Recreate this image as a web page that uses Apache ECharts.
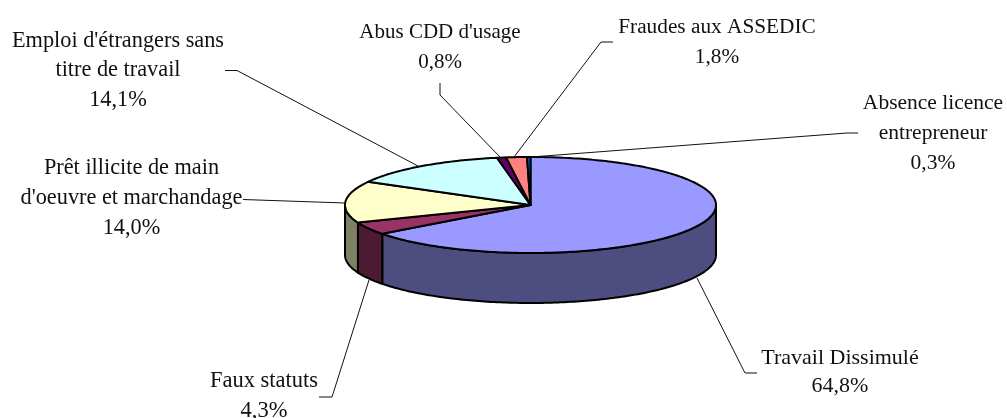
<!DOCTYPE html>
<html>
<head>
<meta charset="utf-8">
<style>html,body{margin:0;padding:0;background:#fff}#c{width:1007px;height:418px}</style>
<script src="https://cdn.jsdelivr.net/npm/echarts@6/dist/echarts.min.js"></script>
</head>
<body>
<div id="c"></div>
<script>
// Data, clockwise from 12 o'clock
const categories = ["Travail Dissimulé", "Faux statuts", "Prêt illicite de main\nd'oeuvre et marchandage", "Emploi d'étrangers sans\ntitre de travail", "Abus CDD d'usage", "Fraudes aux ASSEDIC", "Absence licence\nentrepreneur"];
const values = [64.8, 4.3, 14.0, 14.1, 0.8, 1.8, 0.3];

// Styles and layout
const colors = ["#9999FF", "#993366", "#FFFFCC", "#CCFFFF", "#660066", "#FF8080", "#0066CC"];
const pie = { cx: 530.5, cy: 205, rx: 185.5, ry: 48, depth: 50 };
const labelCenters = [[840, 372], [264, 396], [131.5, 198], [118, 70.5], [440, 47.5], [717, 42], [933, 133]];
const labelLineHeights = [28, 30, 30, 29.5, 30, 30, 30];
const labelFontSizes = [22, 22.5, 22.3, 22.3, 21, 21.3, 21.5];
const leaders = [
  [[757, 373], [745, 373], [697, 278]],
  [[319, 397], [332, 397], [369, 280]],
  [[243, 199.5], [345, 203]],
  [[225, 70.5], [237, 70.5], [418, 166]],
  [[440, 83], [440, 95], [500, 157]],
  [[613, 42], [601, 42], [514, 157]],
  [[858, 133], [847, 133], [531, 157]]
];
const FONT = '"Liberation Serif", "Times New Roman", serif';

const total = values.reduce((a, b) => a + b, 0);
const D2R = Math.PI / 180;
const pt = (deg, dy) => [pie.cx + pie.rx * Math.sin(deg * D2R), pie.cy - pie.ry * Math.cos(deg * D2R) + (dy || 0)];
function arc(a0, a1, dy) {
  const n = Math.max(2, Math.ceil(Math.abs(a1 - a0)));
  const out = [];
  for (let i = 0; i <= n; i++) out.push(pt(a0 + (a1 - a0) * i / n, dy));
  return out;
}
function darken(hex) {
  const n = parseInt(hex.slice(1), 16);
  const c = [(n >> 16) & 255, (n >> 8) & 255, n & 255].map(v => Math.round(v / 2));
  return "rgb(" + c.join(",") + ")";
}
function startAngle(i) {
  let s = 0;
  for (let k = 0; k < i; k++) s += values[k];
  return s / total * 360;
}

function renderSlice(params, api) {
  const i = params.dataIndex;
  const v = api.value(0);
  const a0 = startAngle(i);
  const a1 = a0 + v / total * 360;
  const children = [];
  const stroke = { stroke: "#000", lineWidth: 2, lineJoin: "round" };

  // Side wall: only the part of the slice on the front half of the disc
  const s0 = Math.max(a0, 90), s1 = Math.min(a1, 270);
  if (s1 > s0) {
    children.push({
      type: "polygon", z2: 1,
      shape: { points: arc(s0, s1, 0).concat(arc(s1, s0, pie.depth)) },
      style: Object.assign({ fill: darken(colors[i]) }, stroke)
    });
  }
  // Top face
  children.push({
    type: "polygon", z2: 2,
    shape: { points: [[pie.cx, pie.cy]].concat(arc(a0, a1, 0)) },
    style: Object.assign({ fill: colors[i] }, stroke)
  });
  // Leader line
  children.push({
    type: "polyline", z2: 3,
    shape: { points: leaders[i] },
    style: { fill: null, stroke: "#111", lineWidth: 1 }
  });
  // Label
  children.push({
    type: "text", z2: 4,
    x: labelCenters[i][0], y: labelCenters[i][1],
    style: {
      text: categories[i] + "\n" + v.toFixed(1).replace(".", ",") + "%",
      font: labelFontSizes[i] + "px " + FONT,
      lineHeight: labelLineHeights[i],
      fill: "#111",
      align: "center",
      verticalAlign: "middle"
    }
  });
  return { type: "group", children: children };
}

const chart = echarts.init(document.getElementById("c"), null, { renderer: "canvas" });
chart.setOption({
  animation: false,
  backgroundColor: "#fff",
  series: [{
    type: "custom",
    coordinateSystem: "none",
    renderItem: renderSlice,
    data: values.map((v, i) => ({ name: categories[i], value: [v] }))
  }]
});
</script>
</body>
</html>
